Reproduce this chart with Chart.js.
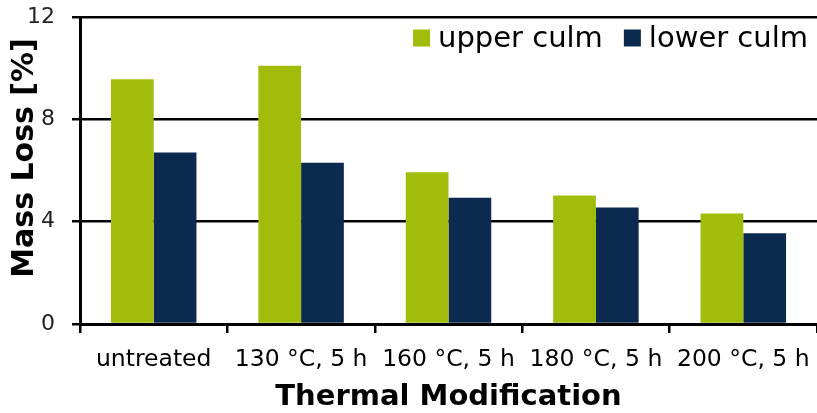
<!DOCTYPE html>
<html>
<head>
<meta charset="utf-8">
<script src="https://cdn.jsdelivr.net/npm/chart.js@4/dist/chart.umd.min.js"></script>
<style>
html,body{margin:0;padding:0;background:#fff;}
#wrap{width:817px;height:413px;position:relative;}
</style>
</head>
<body>
<div id="wrap"><canvas id="c" width="817" height="413"></canvas></div>
<script>
const categories = ['untreated', '130 °C, 5 h', '160 °C, 5 h', '180 °C, 5 h', '200 °C, 5 h'];
const upperCulm = [9.57, 10.09, 5.93, 5.02, 4.32];
const lowerCulm = [6.70, 6.30, 4.93, 4.55, 3.55];
const seriesNames = ['upper culm', 'lower culm'];
const yTicks = [0, 4, 8, 12];
const xTitle = 'Thermal Modification';
const yTitle = 'Mass Loss [%]';

const GREEN = '#a2bc0c';
const NAVY = '#0c2a50';
const FONT = "'DejaVu Sans', Verdana, sans-serif";

const overlay = {
  id: 'overlay',
  afterDraw(chart) {
    const ctx = chart.ctx;
    ctx.save();
    // y title
    ctx.fillStyle = '#000';
    ctx.font = 'bold 30px ' + FONT;
    ctx.textAlign = 'center';
    ctx.textBaseline = 'middle';
    ctx.translate(25, 158);
    ctx.rotate(-Math.PI / 2);
    ctx.fillText(yTitle, 0, 0);
    ctx.restore();
    // legend
    ctx.save();
    ctx.font = '29px ' + FONT;
    ctx.textBaseline = 'middle';
    ctx.textAlign = 'left';
    const items = chart.data.datasets.map(d => ({label: d.label, color: d.backgroundColor}));
    const box = 17, gapBT = 8, gapItems = 21;
    let widths = items.map(it => box + gapBT + ctx.measureText(it.label).width);
    let total = widths.reduce((a, b) => a + b, 0) + gapItems * (items.length - 1);
    let x = 808 - total;
    const cy = 38;
    items.forEach((it, i) => {
      ctx.fillStyle = it.color;
      ctx.fillRect(x, cy - box / 2, box, box);
      ctx.fillStyle = '#000';
      ctx.fillText(it.label, x + box + gapBT, cy + 1);
      x += widths[i] + gapItems;
    });
    ctx.restore();
  }
};

new Chart(document.getElementById('c'), {
  type: 'bar',
  data: {
    labels: categories,
    datasets: [
      {label: seriesNames[0], data: upperCulm, backgroundColor: GREEN, borderWidth: 0},
      {label: seriesNames[1], data: lowerCulm, backgroundColor: NAVY, borderWidth: 0}
    ]
  },
  options: {
    responsive: false,
    animation: false,
    devicePixelRatio: 1,
    layout: {padding: {top: 17, right: -3, left: 0, bottom: 0}},
    plugins: {legend: {display: false}, tooltip: {enabled: false}},
    datasets: {bar: {categoryPercentage: 0.58, barPercentage: 1.0}},
    scales: {
      x: {
        afterFit(scale) { scale.height = 89; scale.paddingLeft = 0; scale.paddingRight = 0; },
        grid: {display: true, drawOnChartArea: false, drawTicks: true, tickLength: 9, color: '#000', lineWidth: 2.5, offset: true},
        border: {display: true, color: '#000', width: 3},
        ticks: {color: '#000', font: {family: FONT, size: 23.5}, padding: 13, maxRotation: 0, autoSkip: false},
        title: {display: true, text: xTitle, color: '#000', font: {family: FONT, size: 29, weight: 'bold'}, padding: {top: 0, bottom: -2}}
      },
      y: {
        min: 0, max: 12,
        afterBuildTicks(scale) { scale.ticks = yTicks.map(v => ({value: v})); },
        afterFit(scale) { scale.width = 80; scale.paddingTop = 0; scale.paddingBottom = 0; },
        grid: {color: '#000', lineWidth: 2.5, tickLength: 8, drawTicks: true},
        border: {display: true, color: '#000', width: 3},
        ticks: {color: '#222', font: {family: FONT, size: 22}, padding: 17}
      }
    }
  },
  plugins: [overlay]
});
</script>
</body>
</html>
